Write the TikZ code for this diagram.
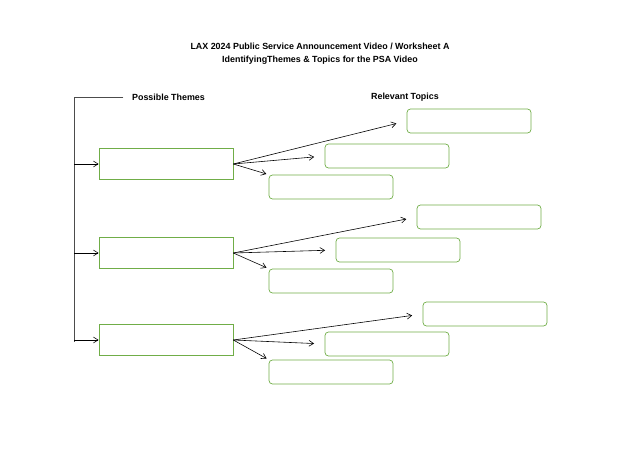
\documentclass[tikz,border=0pt]{standalone}
\usepackage{fontspec}
\setmainfont{Liberation Sans}
\usetikzlibrary{arrows.meta,calc}
\definecolor{boxgreen}{RGB}{112,173,71}
\begin{document}
\begin{tikzpicture}[x=0.03cm,y=-0.03cm,>={Straight Barb[length=4pt,width=5pt]},
    theme/.style={draw=boxgreen,line width=0.6pt,minimum width=4.02cm,minimum height=0.93cm,inner sep=0pt},
    topic/.style={draw=boxgreen,line width=0.6pt,rounded corners=3pt,minimum width=3.72cm,minimum height=0.72cm,inner sep=0pt},
    lbl/.style={font=\bfseries\fontsize{7.6}{9}\selectfont},
    link/.style={->,black,line width=0.5pt,shorten >=9pt}]
  \useasboundingbox (0,0) rectangle (640,452);
  \node[lbl] (title1) at (320,46) {LAX 2024 Public Service Announcement Video / Worksheet A};
  \node[lbl] (title2) at (320,60) {IdentifyingThemes \& Topics for the PSA Video};
  \node[lbl,anchor=west] (themes) at (128,97) {Possible Themes};
  \node[lbl,anchor=west] (topics) at (367,97) {Relevant Topics};

  \coordinate (top) at (74,97);
  \coordinate (bottom) at (74,342);
  \draw[black!70,line width=0.5pt] ([xshift=-4pt]themes.west) -- (top) -- (bottom);

  % three theme rows
  \foreach \i/\ty/\ax/\ay/\bx/\by/\cy in {1/164/469/121/387/156/187, 2/253/479/217/398/250/281, 3/340/485/314/387/344/372} {
    \node[theme] (theme\i) at (166,\ty) {};
    \node[topic] (topicA\i) at (\ax,\ay) {};
    \node[topic] (topicB\i) at (\bx,\by) {};
    \node[topic] (topicC\i) at (331,\cy) {};
    \coordinate (in\i) at (74,\ty);
    \draw[->,black,line width=0.5pt] (in\i) -- (theme\i.west);
    \draw[link] (theme\i.east) -- (topicA\i.west);
    \draw[link] (theme\i.east) -- (topicB\i.west);
    \draw[link,shorten >=2pt] (theme\i.east) -- (topicC\i.north west);
  }
\end{tikzpicture}
\end{document}
